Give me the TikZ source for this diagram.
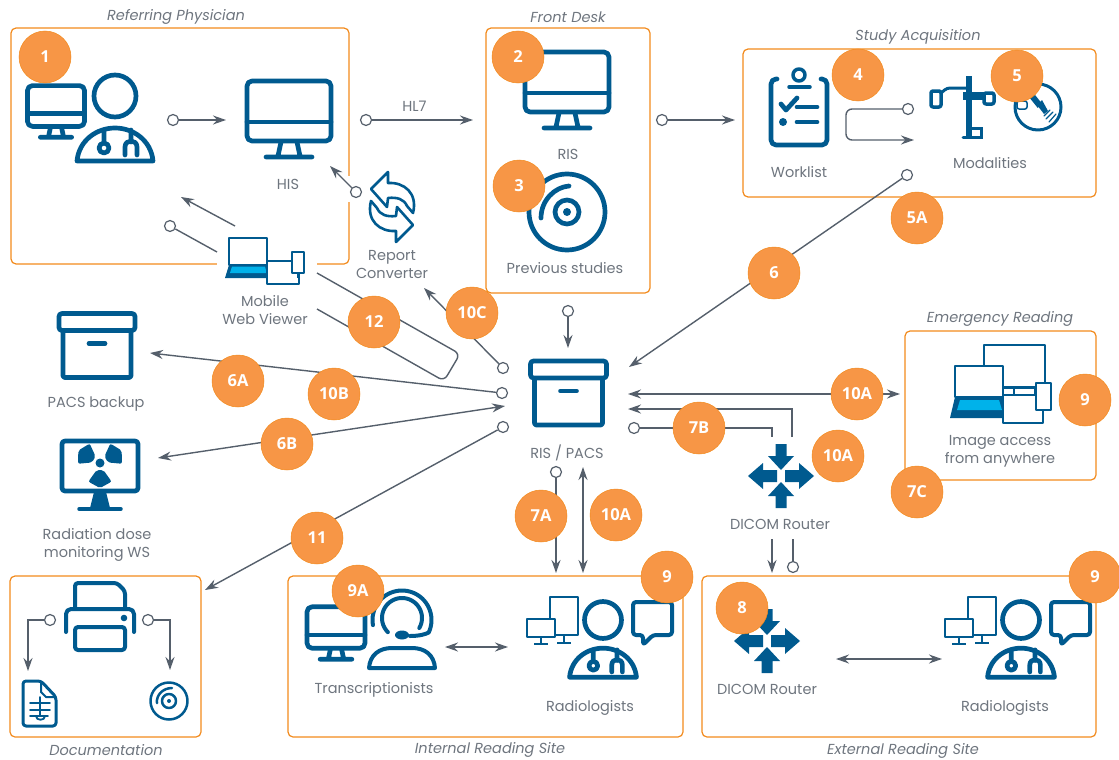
\documentclass[tikz,border=0pt]{standalone}
\usepackage{fontspec}
\setmainfont{Poppins}
\newfontfamily\badgefont{Open Sans}
\usetikzlibrary{arrows.meta}

\definecolor{iconblue}{HTML}{005A8F}
\definecolor{iconcyan}{HTML}{00B2EA}
\definecolor{linegray}{HTML}{555F6B}
\definecolor{textgray}{HTML}{6E757E}
\definecolor{boxorange}{HTML}{F28A1C}
\definecolor{badgeorange}{HTML}{F79646}

\tikzset{
    site/.style={draw=boxorange, line width=1.2pt, rounded corners=5pt},
    sitetitle/.style={font=\fontsize{14.5}{15}\selectfont\itshape, text=textgray, inner sep=0pt, yshift=-1pt},
    lbl/.style={font=\fontsize{14.5}{18}\selectfont, text=textgray, inner sep=0pt, align=center, yshift=-1.5pt},
    badge/.style={circle, fill=badgeorange, draw=boxorange, line width=.5pt, minimum size=52pt, inner sep=0pt,
        text=white, font=\fontsize{16.5}{16.5}\selectfont\badgefont\bfseries},
    term/.style={circle, draw=linegray, fill=white, line width=1.2pt, minimum size=11pt, inner sep=0pt},
    link/.style={draw=linegray, line width=1.4pt},
    conn/.style={link, -{Stealth[length=13pt,width=9pt]}},
    both/.style={link, {Stealth[length=13pt,width=9pt]}-{Stealth[length=13pt,width=9pt]}},
    iconln/.style={draw=iconblue, line cap=round, line join=round, line width=4.7pt},
    thinln/.style={draw=iconblue, line join=round, line width=2pt},
    pics/screen/.style={code={
        \draw[iconln, rounded corners=5pt] (-42,-30) rectangle (42,30);
        \draw[iconln] (-42,11) -- (42,11);
        \draw[iconln] (-8,31) -- (-11,45) (8,31) -- (11,45) (-23,46) -- (23,46);
    }},
    pics/doctor/.style={code={
        \draw[iconln] (0,0) circle (21);
        \draw[iconln] (-38,65) -- (38,65) .. controls (36,44) and (18,32) .. (0,32) .. controls (-18,32) and (-36,44) .. (-38,65) -- cycle;
        \draw[iconln] (-11,52) circle (5) (-11,46) -- (-11,34);
        \draw[iconln] (10,59) -- (10,51) .. controls (10,43) and (22,43) .. (22,51) -- (22,59) (16,46) -- (16,34);
    }},
    pics/archive/.style={code={
        \draw[iconln, rounded corners=2pt] (-34,-14) -- (-34,32) -- (34,32) -- (34,-14);
        \draw[iconln, rounded corners=3pt] (-38,-32) rectangle (38,-15);
        \draw[iconln] (-8,-2) -- (8,-2);
    }},
    pics/disc/.style={code={
        \draw[iconln] (0,0) circle (38);
        \draw[iconln] (0,0) circle (12);
        \fill[iconblue] (0,0) circle (4);
        \draw[iconln] (-26,6) .. controls (-26,-12) and (-12,-25) .. (2,-26);
    }},
    pics/devices/.style={code={
        \draw[thinln, fill=white] (-36,-23) rectangle (2,4);
        \fill[iconblue] (-36,4) -- (2,4) -- (3,17) -- (-40,17) -- cycle;
        \fill[iconcyan] (-33,5.5) -- (0,5.5) -- (1.7,12) -- (-35,12) -- cycle;
        \draw[thinln, fill=white] (2,0) rectangle (34,23);
        \draw[thinln] (33,12) -- (33,17);
        \draw[thinln, fill=white] (27,-9) rectangle (39,12);
    }},
    pics/router/.style={code={
        \fill[iconblue] (-5.5,-32) -- (5.5,-32) -- (5.5,-20) -- (13,-20) -- (0,-6) -- (-13,-20) -- (-5.5,-20) -- cycle;
        \fill[iconblue] (-5.5,32) -- (5.5,32) -- (5.5,20) -- (13,20) -- (0,6) -- (-13,20) -- (-5.5,20) -- cycle;
        \fill[iconblue] (-4,-6) -- (-18,-6) -- (-18,-13) -- (-33,0) -- (-18,13) -- (-18,6) -- (-4,6) -- cycle;
        \fill[iconblue] (4,-6) -- (18,-6) -- (18,-13) -- (33,0) -- (18,13) -- (18,6) -- (4,6) -- cycle;
    }},
    pics/reader/.style={code={
        \pic[scale=.88, iconln, line width=4pt] {doctor};
        \draw[iconln, line width=4pt, rounded corners=3pt] (30,-18) -- (69,-18) -- (69,15) -- (50,15) -- (40,25) -- (40,15) -- (30,15) -- cycle;
        \draw[thinln, fill=white] (-53,-23) rectangle (-25,15);
        \draw[thinln] (-39,15) -- (-39,22) (-46,23) -- (-32,23);
        \draw[thinln, fill=white] (-76,-1) rectangle (-48,17);
        \draw[thinln] (-62,17) -- (-62,23) (-69,24) -- (-55,24);
    }},
    pics/swap/.style={code={
        \draw[iconln, line width=2.6pt] (-21,-18) -- (-4,-35) -- (-4,-24) .. controls (12,-25) and (26,-14) .. (21,6) -- (15,-1) .. controls (12,-8) and (5,-10) .. (-4,-9) -- (-5,0) -- cycle;
    }},
}

\begin{document}
\begin{tikzpicture}[x=1pt, y=-1pt]
    \useasboundingbox (0,0) rectangle (1119,760);

    % sites
    \draw[site] (11,28) rectangle (349,264);
    \draw[site] (486,28) rectangle (650,293);
    \draw[site] (743,49) rectangle (1096,197);
    \draw[site] (905,331) rectangle (1096,480);
    \draw[site] (10,576) rectangle (201,737);
    \draw[site] (288,576) rectangle (683,737);
    \draw[site] (702,576) rectangle (1096,737);
    \fill[white] (217,258) rectangle (317,270);
    \fill[white] (344,176) rectangle (354,202);

    \node[sitetitle] (treferring) at (176,16) {Referring Physician};
    \node[sitetitle] (tfront) at (568,16) {Front Desk};
    \node[sitetitle] (tstudy) at (918,36) {Study Acquisition};
    \node[sitetitle] (temergency) at (1000,318) {Emergency Reading};
    \node[sitetitle] (tdoc) at (106,749) {Documentation};
    \node[sitetitle] (tinternal) at (490,749) {Internal Reading Site};
    \node[sitetitle] (texternal) at (903,750) {External Reading Site};

    % connector ends
    \node[term] (ophys) at (173,120) {};
    \node[term] (ohl7) at (366,120) {};
    \node[term] (ofront) at (662,120) {};
    \node[term] (owork) at (908,109) {};
    \node[term] (omod) at (907,175) {};
    \node[term] (oconv) at (356,192) {};
    \node[term] (omobile) at (170,226) {};
    \node[term] (otenc) at (503,368) {};
    \node[term] (osixa) at (502,393) {};
    \node[term] (oeleven) at (503,427) {};
    \node[term] (otop) at (568,311) {};
    \node[term] (osevenb) at (634,428) {};
    \node[term] (osevena) at (556,472) {};
    \node[term] (orouter) at (793,567) {};
    \node[term] (oprintl) at (50,620) {};
    \node[term] (oprintr) at (148,620) {};

    \coordinate (ahis) at (226,120);
    \coordinate (ahl7) at (473,120);
    \coordinate (astudy) at (735,120);
    \coordinate (wltop) at (846,109);
    \coordinate (wlbot) at (846,140);
    \coordinate (awl) at (914,140);
    \coordinate (apacsne) at (629,367);
    \coordinate (ahisb) at (330,166);
    \coordinate (mobarr) at (235,226);
    \coordinate (aphys) at (181,197);
    \coordinate (moblnk) at (217,252);
    \coordinate (mobup) at (317,273);
    \coordinate (mobcr) at (460,354);
    \coordinate (mobcs) at (444,381);
    \coordinate (moblo) at (317,309);
    \coordinate (aconv) at (424,288);
    \coordinate (abackup) at (150,353);
    \coordinate (adose) at (158,458);
    \coordinate (apacsw) at (505,406);
    \coordinate (adoc) at (205,590);
    \coordinate (apacstop) at (568,348);
    \coordinate (apacsa) at (628,394);
    \coordinate (aemerg) at (900,394);
    \coordinate (apacsb) at (628,409);
    \coordinate (rtup) at (792,437);
    \coordinate (rtupc) at (792,409);
    \coordinate (rtlo) at (772,437);
    \coordinate (rtloc) at (772,428);
    \coordinate (ainta) at (556,573);
    \coordinate (pacsdn) at (583,467);
    \coordinate (aintb) at (583,573);
    \coordinate (rtdn) at (772,539);
    \coordinate (aext) at (772,573);
    \coordinate (rtdnb) at (793,539);
    \coordinate (plc) at (28,620);
    \coordinate (aplate) at (28,671);
    \coordinate (prc) at (170,620);
    \coordinate (acd) at (170,670);
    \coordinate (intl) at (445,647);
    \coordinate (intr) at (508,647);
    \coordinate (extl) at (836,659);
    \coordinate (extr) at (942,659);

    \draw[conn] (ophys) -- (ahis);
    \draw[conn] (ohl7) -- (ahl7) node[pos=.42, above=9pt, lbl] (lhl7) {HL7};
    \draw[conn] (ofront) -- (astudy);
    \draw[conn, rounded corners=6pt] (owork) -- (wltop) -- (wlbot) -- (awl);
    \draw[conn] (omod) -- (apacsne);
    \draw[conn] (oconv) -- (ahisb);
    \draw[conn] (mobarr) -- (aphys);
    \draw[link] (omobile) -- (moblnk);
    \draw[link, rounded corners=6pt] (mobup) -- (mobcr) -- (mobcs) -- (moblo);
    \draw[conn] (otenc) -- (aconv);
    \draw[conn] (osixa) -- (abackup);
    \draw[both] (adose) -- (apacsw);
    \draw[conn] (oeleven) -- (adoc);
    \draw[conn] (otop) -- (apacstop);
    \draw[both] (apacsa) -- (aemerg);
    \draw[conn] (rtup) -- (rtupc) -- (apacsb);
    \draw[link] (osevenb) -- (rtloc) -- (rtlo);
    \draw[conn] (osevena) -- (ainta);
    \draw[both] (pacsdn) -- (aintb);
    \draw[conn] (rtdn) -- (aext);
    \draw[link] (rtdnb) -- (orouter);
    \draw[conn] (oprintl) -- (plc) -- (aplate);
    \draw[conn] (oprintr) -- (prc) -- (acd);
    \draw[both] (intl) -- (intr);
    \draw[both] (extl) -- (extr);

    % icons
    \pic[scale=.68, line width=3pt] at (56,106) {screen};
    \pic at (115,96) {doctor};
    \pic at (289,111) {screen};
    \pic at (567,82) {screen};
    \pic at (567,212) {disc};
    \pic at (392,207) {swap};
    \pic[rotate=180] at (392,207) {swap};
    \pic at (265,261) {devices};
    \pic at (568.5,393) {archive};
    \pic at (97,345.5) {archive};
    \pic at (781,476) {router};
    \pic at (767,641) {router};
    \pic at (603,620) {reader};
    \pic at (1021,620) {reader};

    % clipboard
    \draw[iconln, rounded corners=5pt] (777,79) -- (771,79) -- (771,145) -- (827,145) -- (827,79) -- (821,79);
    \draw[iconln, line width=3.5pt] (799,75) circle (6);
    \draw[iconln, line width=3.5pt] (789,87) -- (810,87);
    \draw[iconln] (781,104) -- (786,110) -- (797,98);
    \draw[iconln] (797,107) -- (817,107) (797,122) -- (817,122);
    \fill[iconblue] (783,122) circle (4);

    % modalities
    \fill[iconblue] (966,76) rectangle (972,137);
    \draw[iconln, line width=3.5pt, rounded corners=2pt] (931,91) rectangle (941,107);
    \draw[iconln, line width=3pt, rounded corners=3pt] (941,93) -- (947,88) -- (966,88);
    \draw[iconln, line width=8pt, line cap=butt] (963,96) -- (984,96);
    \draw[iconln, line width=3.5pt, fill=white, rounded corners=2pt] (984,93) rectangle (994,104);
    \draw[iconln, line width=3pt, line join=miter] (963,137) -- (981,137) -- (981,128) -- (971,128);
    \draw[iconln, line width=3pt] (1038,107) circle (23);
    \draw[iconln, line width=1.5pt, fill=white, rounded corners=2pt] (1017,101) rectangle (1027,109);
    \draw[iconln, line width=6pt, line cap=butt] (1032,96) -- (1040,106);
    \fill[iconblue] (1037,105) -- (1042,100) -- (1048,111) -- (1044,114) -- cycle;
    \draw[iconln, line width=1.2pt] (1044,116) -- (1050,110) (1046,119) -- (1053,112) (1049,122) -- (1056,114);

    % radiation dose screen
    \draw[iconln, rounded corners=3pt] (62,441) rectangle (138,491);
    \fill[iconblue] (94,492) -- (106,492) -- (110,508) -- (90,508) -- cycle;
    \draw[iconln, line width=3.5pt] (79,509) -- (121,509);
    \fill[iconblue] (100,463) circle (4.5);
    \foreach \ang in {90,210,330} {
        \fill[iconblue, rounded corners=2pt] (100,463) +(\ang-26:8) -- +(\ang-32:22) -- +(\ang:25) -- +(\ang+32:22) -- +(\ang+26:8) -- cycle;
    }

    % printer
    \draw[iconln, line width=4pt, rounded corners=3pt] (75,607) -- (75,583) -- (117,583) -- (125,591) -- (125,607);
    \draw[iconln, line width=4pt, rounded corners=5pt] (66,632) -- (66,609) -- (134,609) -- (134,632);
    \draw[iconln, line width=4pt, rounded corners=3pt] (75,627) rectangle (125,650);
    \fill[iconblue] (124,618) circle (3.3);

    % film and disc
    \draw[iconln, line width=3pt, rounded corners=3pt] (23,681) -- (41,681) -- (56,697) -- (56,726) -- (23,726) -- cycle;
    \draw[iconln, line width=2pt] (41,682) -- (41,692) -- (46,697) -- (55,697);
    \draw[iconln, line width=1.8pt] (40,697) -- (40,716) (30,703) -- (50,703) (30,710) -- (50,710) (30,716) -- (48,716);
    \draw[iconln, line width=1.8pt] (45,716) .. controls (45,721) and (36,721) .. (36,716);
    \draw[iconln, line width=2.5pt] (169,701) circle (18.5);
    \draw[iconln, line width=2.5pt] (169,701) circle (7);
    \fill[iconblue] (169,701) circle (2);
    \draw[iconln, line width=2.5pt] (157,703) .. controls (156,695) and (163,688) .. (172,688);

    % transcriptionist
    \pic[scale=.69, line width=3.2pt] at (336,627.5) {screen};
    \draw[iconln, line width=4pt] plot[domain=170:385, samples=40, variable=\t] ({402+29.5*cos(\t)},{620+29.5*sin(\t)}) .. controls (426,634) and (420,636) .. (410,636);
    \draw[iconln, line width=4pt] plot[domain=135:390, samples=40, variable=\t] ({402+20*cos(\t)},{618+20*sin(\t)});
    \fill[iconblue] (402,635) ellipse (7 and 4.5);
    \draw[iconln, line width=4pt] (369,668) -- (435,668) .. controls (434,655) and (425,648) .. (412,648) -- (392,648) .. controls (379,648) and (370,655) .. (369,668) -- cycle;

    % image access
    \draw[thinln, fill=white] (984,345) rectangle (1045,387);
    \draw[thinln] (994,388) -- (1035,388) -- (1035,395) -- (994,395) -- cycle (1014,388) -- (1014,395);
    \draw[thinln, fill=white] (955,366) rectangle (1003,397);
    \fill[iconblue] (955,397) -- (1003,397) -- (1004,418) -- (950,418) -- cycle;
    \fill[iconcyan] (960,400) -- (999,400) -- (1002,410) -- (957,410) -- cycle;
    \draw[thinln, fill=white] (1003,395) rectangle (1043,423);
    \draw[thinln, fill=white] (1036,383) rectangle (1051,410);

    % labels
    \node[lbl] (lhis) at (288,183) {HIS};
    \node[lbl] (lris) at (568,153) {RIS};
    \node[lbl] (lprev) at (565,267) {Previous studies};
    \node[lbl] (lwork) at (799,171) {Worklist};
    \node[lbl] (lmod) at (990,162) {Modalities};
    \node[lbl] (lconv) at (392,263) {Report\\Converter};
    \node[lbl] (lmobile) at (265,309) {Mobile\\Web Viewer};
    \node[lbl] (lbackup) at (96,403) {PACS backup};
    \node[lbl] (ldose) at (97,543) {Radiation dose\\monitoring WS};
    \node[lbl] (lpacs) at (567,451) {RIS / PACS};
    \node[lbl] (lrouter) at (780,523) {DICOM Router};
    \node[lbl] (limage) at (1000,450) {Image access\\from anywhere};
    \node[lbl] (ltrans) at (374,688) {Transcriptionists};
    \node[lbl] (lrad) at (590,706) {Radiologists};
    \node[lbl] (lrouterb) at (767,688) {DICOM Router};
    \node[lbl] (lradb) at (1005,706) {Radiologists};

    % numbers
    \node[badge] (bone) at (45,57) {1};
    \node[badge] (btwo) at (518,57) {2};
    \node[badge] (bthree) at (519,186) {3};
    \node[badge] (bfour) at (858,75) {4};
    \node[badge] (bfive) at (1017,76) {5};
    \node[badge] (bfivea) at (917,218) {5A};
    \node[badge] (bsix) at (774,273) {6};
    \node[badge] (btenc) at (472,313) {10C};
    \node[badge] (btwelve) at (374,322) {12};
    \node[badge] (bsixa) at (238,381) {6A};
    \node[badge] (btenb) at (334,394) {10B};
    \node[badge] (bsixb) at (287,444) {6B};
    \node[badge] (beleven) at (317,538) {11};
    \node[badge] (bsevena) at (541,516) {7A};
    \node[badge] (btena) at (616,515) {10A};
    \node[badge] (bninea) at (667,577) {9};
    \node[badge] (bnineb) at (1095,577) {9};
    \node[badge] (bninec) at (1085,400) {9};
    \node[badge] (bninet) at (358,591) {9A};
    \node[badge] (beight) at (742,608) {8};
    \node[badge] (btenr) at (838,456) {10A};
    \node[badge] (bsevenb) at (699,428) {7B};
    \node[badge] (btent) at (857,394) {10A};
    \node[badge] (bsevenc) at (917,492) {7C};
\end{tikzpicture}
\end{document}
